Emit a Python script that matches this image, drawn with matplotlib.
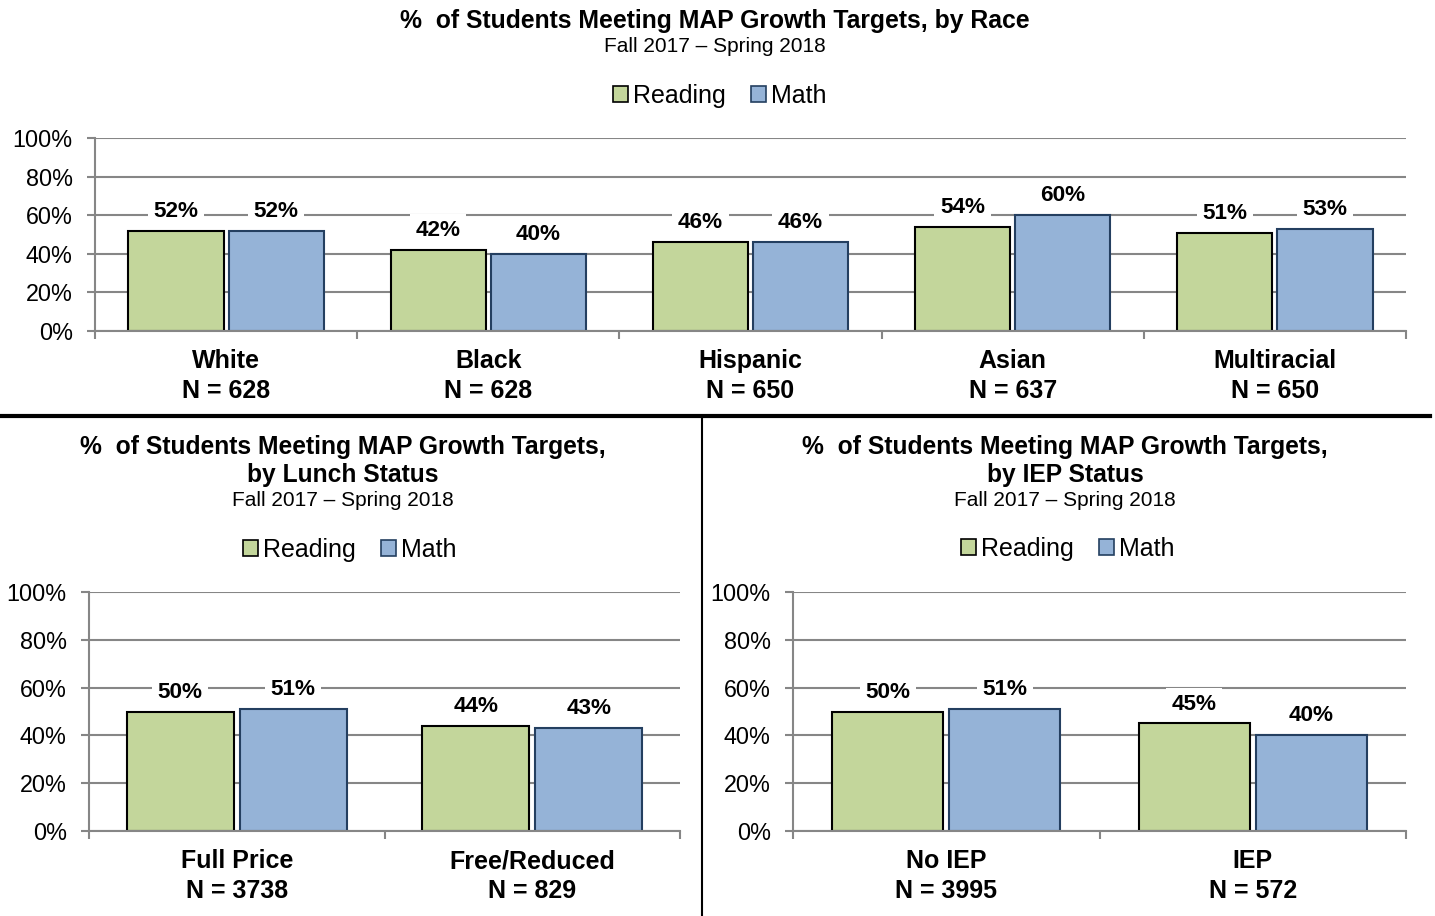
import matplotlib.pyplot as plt
from matplotlib.patches import Patch
from matplotlib.lines import Line2D
from matplotlib.ticker import FixedLocator, PercentFormatter

plt.rcParams['font.family'] = ['Liberation Sans', 'DejaVu Sans']

# data
race_groups = ['White', 'Black', 'Hispanic', 'Asian', 'Multiracial']
race_n = [628, 628, 650, 637, 650]
race_reading = [52, 42, 46, 54, 51]
race_math = [52, 40, 46, 60, 53]

lunch_groups = ['Full Price', 'Free/Reduced']
lunch_n = [3738, 829]
lunch_reading = [50, 44]
lunch_math = [51, 43]

iep_groups = ['No IEP', 'IEP']
iep_n = [3995, 572]
iep_reading = [50, 45]
iep_math = [51, 40]

subtitle = 'Fall 2017 \u2013 Spring 2018'

READ_FILL = '#C3D69B'
MATH_FILL = '#95B3D7'
MATH_EDGE = '#243F60'
GRID = '#868686'

W, H = 1435, 916
fig = plt.figure(figsize=(W / 100, H / 100), dpi=100)


def px_axes(left, top, right, bottom):
    return fig.add_axes([left / W, 1 - bottom / H, (right - left) / W, (bottom - top) / H])


def fx(x):
    return x / W


def fy(y):
    return 1 - y / H


def draw_panel(ax, groups, ns, reading, math):
    n = len(groups)
    x = list(range(n))
    bw = 0.363
    off = 0.191
    rx = [i - off for i in x]
    mx = [i + off for i in x]
    ax.bar(rx, reading, bw, color=READ_FILL, edgecolor='black', linewidth=1.5, zorder=2)
    ax.bar(mx, math, bw, color=MATH_FILL, edgecolor=MATH_EDGE, linewidth=1.5, zorder=2)
    for xs, vals in ((rx, reading), (mx, math)):
        for xi, v in zip(xs, vals):
            ax.annotate('%d%%' % v, (xi, v), xytext=(0, 14), textcoords='offset points',
                        ha='center', va='center', fontsize=16.2, fontweight='bold', zorder=4,
                        bbox=dict(facecolor='white', edgecolor='none', pad=4))
    ax.set_xlim(-0.5, n - 0.5)
    ax.set_ylim(0, 100)
    ax.set_yticks([0, 20, 40, 60, 80, 100])
    ax.yaxis.set_major_formatter(PercentFormatter(decimals=0))
    ax.yaxis.grid(True, color=GRID, linewidth=1.5)
    ax.set_axisbelow(True)
    ax.set_xticks(x)
    ax.set_xticklabels(['%s\nN = %d' % (g, c) for g, c in zip(groups, ns)],
                       fontsize=18, fontweight='bold', linespacing=1.3)
    ax.xaxis.set_minor_locator(FixedLocator([i - 0.5 for i in range(n + 1)]))
    ax.tick_params(axis='x', which='major', length=0, pad=13)
    ax.tick_params(axis='x', which='minor', length=6, width=1.5, color=GRID, direction='out')
    ax.tick_params(axis='y', length=6, width=1.5, color=GRID, labelsize=16.8, pad=10)
    for s in ('top', 'right'):
        ax.spines[s].set_visible(False)
    for s in ('left', 'bottom'):
        ax.spines[s].set_color(GRID)
        ax.spines[s].set_linewidth(1.5)
    ax.spines['bottom'].set_zorder(3)


def add_legend(cx, cy):
    handles = [Patch(facecolor=READ_FILL, edgecolor='black', linewidth=1.2, label='Reading'),
               Patch(facecolor=MATH_FILL, edgecolor=MATH_EDGE, linewidth=1.2, label='Math')]
    fig.legend(handles=handles, loc='center', bbox_to_anchor=(fx(cx), fy(cy)), ncol=2,
               frameon=False, fontsize=18, handlelength=0.6, handleheight=0.6,
               handletextpad=0.2, columnspacing=1.0)


# top: by race
ax1 = px_axes(95, 138, 1406, 331)
draw_panel(ax1, race_groups, race_n, race_reading, race_math)
fig.text(fx(715), fy(21), '%  of Students Meeting MAP Growth Targets, by Race',
         ha='center', va='center', fontsize=17.8, fontweight='bold')
fig.text(fx(715), fy(47), subtitle, ha='center', va='center', fontsize=15)
add_legend(720, 96)

# bottom left: lunch status
ax2 = px_axes(89, 592, 680, 831)
draw_panel(ax2, lunch_groups, lunch_n, lunch_reading, lunch_math)
fig.text(fx(343), fy(461), '%  of Students Meeting MAP Growth Targets,\nby Lunch Status',
         ha='center', va='center', fontsize=17.7, fontweight='bold', linespacing=1.22)
fig.text(fx(343), fy(501), subtitle, ha='center', va='center', fontsize=15)
add_legend(350, 550)

# bottom right: IEP status
ax3 = px_axes(793, 592, 1406, 831)
draw_panel(ax3, iep_groups, iep_n, iep_reading, iep_math)
fig.text(fx(1065), fy(461), '%  of Students Meeting MAP Growth Targets,\nby IEP Status',
         ha='center', va='center', fontsize=17.7, fontweight='bold', linespacing=1.22)
fig.text(fx(1065), fy(501), subtitle, ha='center', va='center', fontsize=15)
add_legend(1068, 549)

# panel separators
fig.add_artist(Line2D([0, fx(1430)], [fy(416), fy(416)], color='black', linewidth=3))
fig.add_artist(Line2D([fx(702), fx(702)], [fy(418), 0], color='black', linewidth=1.5))

fig.savefig('out.png', dpi=100)
